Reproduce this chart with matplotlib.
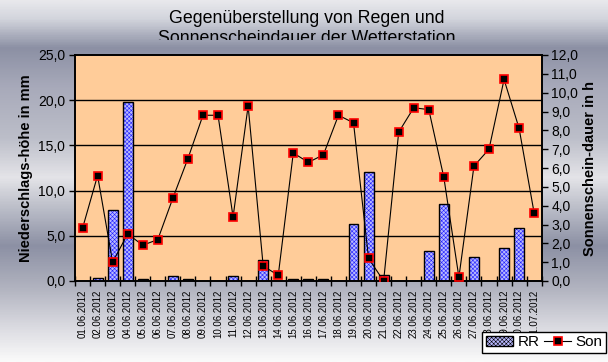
"""Niederschlag (RR) und Sonnenscheindauer (Son), Juni 2012"""

import numpy as np
import matplotlib
matplotlib.use("Agg")
import matplotlib.pyplot as plt
from matplotlib.patches import Patch
from matplotlib.lines import Line2D
from matplotlib.transforms import Bbox, TransformedBbox
from matplotlib.colors import LinearSegmentedColormap

# dates 01.06.2012 .. 01.07.2012
dates = ["%02d.06.2012" % d for d in range(1, 31)] + ["01.07.2012"]

# rain in mm (RR)
rain = [0.0, 0.3, 7.8, 19.8, 0.2, 0.0, 0.5, 0.2, 0.0, 0.0,
        0.5, 0.0, 2.3, 0.0, 0.2, 0.2, 0.2, 0.0, 6.3, 12.1,
        0.7, 0.0, 0.0, 3.3, 8.5, 0.0, 2.6, 0.0, 3.7, 5.9, 0.0]

# sunshine duration in h (Son)
sun = [2.8, 5.6, 1.0, 2.5, 1.9, 2.2, 4.4, 6.5, 8.8, 8.8,
       3.4, 9.3, 0.8, 0.3, 6.8, 6.3, 6.7, 8.8, 8.4, 1.2,
       0.0, 7.9, 9.2, 9.1, 5.5, 0.2, 6.1, 7.0, 10.7, 8.1, 3.6]

left_ticks = [0, 5, 10, 15, 20, 25]
right_ticks = list(range(0, 13))

plt.rcParams["hatch.linewidth"] = 0.4

W, H = 608, 362
fig = plt.figure(figsize=(W / 100, H / 100), dpi=100)

# chrome-like background gradient (top -> bottom)
bg = fig.add_axes([0, 0, 1, 1], zorder=-5)
stops = [(0.0, "#e8e8ec"), (0.05, "#d2d4dc"), (0.13, "#8c90a4"),
         (0.24, "#a8aaba"), (0.38, "#bcbec9"), (0.49, "#e4e4e8"),
         (0.56, "#c2c4ce"), (0.68, "#8c90a4"), (0.80, "#b2b4c0"),
         (0.91, "#dcdce2"), (1.0, "#fafafa")]
cmap = LinearSegmentedColormap.from_list("chrome", stops)
bg.imshow(np.linspace(0, 1, 400).reshape(-1, 1), aspect="auto", cmap=cmap,
          extent=[0, 1, 0, 1], origin="upper")
bg.axis("off")

# title; second line is cut off at the bottom like in the original
fig.text(0.505, 1 - 22.7 / H, "Gegenüberstellung von Regen und",
         ha="center", va="baseline", fontsize=12.8, family="Liberation Sans")
t2 = fig.text(0.505, 1 - 42.7 / H, "Sonnenscheindauer der Wetterstation",
              ha="center", va="baseline", fontsize=12.8, family="Liberation Sans")
t2.set_clip_box(TransformedBbox(Bbox([[0, 1 - 40 / H], [1, 1]]), fig.transFigure))
t2.set_clip_on(True)

x0, x1 = 75 / W, 541.7 / W
y0, y1 = 1 - 281 / H, 1 - 55 / H
ax = fig.add_axes([x0, y0, x1 - x0, y1 - y0])
ax.set_facecolor("#ffcc99")

narrow = ["Liberation Sans Narrow", "Liberation Sans"]
x = np.arange(len(dates))
bar_face = "#b8b8ff"
bar_hatch = "xxxxxxxx"

# bars: blue checker pattern + black outline
ax.bar(x, rain, width=0.66, color=bar_face, edgecolor="#2020ff", hatch=bar_hatch,
       linewidth=0, zorder=2)
ax.bar(x, rain, width=0.66, facecolor="none", edgecolor="black", linewidth=1.0, zorder=3)

ax.set_xlim(-0.5, len(dates) - 0.5)
ax.set_ylim(0, 25)
ax.set_yticks(left_ticks)
ax.set_yticklabels([("%.1f" % v).replace(".", ",") for v in left_ticks],
                   family=narrow, fontsize=10)
ax.set_xticks(x)
ax.set_xticklabels(dates, rotation=90, family=narrow, fontsize=7)
ax.tick_params(axis="x", which="major", length=0, pad=6)
ax.set_xticks(np.arange(-0.5, len(dates)), minor=True)
ax.tick_params(axis="x", which="minor", length=7, direction="inout", width=1)
ax.tick_params(axis="y", length=4, width=1, pad=3)
for v in left_ticks[1:-1]:
    ax.axhline(v, color="black", linewidth=1.0, zorder=1)
for s in ax.spines.values():
    s.set_linewidth(1.2)

ax.set_ylabel("Niederschlags-höhe in mm", fontsize=10.5, fontweight="bold",
              family="Liberation Sans")
ax.yaxis.set_label_coords(-42 / (541.7 - 75), 0.5)

# sunshine line on the right axis
ax2 = ax.twinx()
ax2.plot(x, sun, color="black", linewidth=0.8, marker="s", markersize=6.2,
         markerfacecolor="black", markeredgecolor="#ff0000", markeredgewidth=1.2,
         zorder=4)
ax2.set_ylim(0, 12)
ax2.set_yticks(right_ticks)
ax2.set_yticklabels([("%.1f" % v).replace(".", ",") for v in right_ticks],
                    family=narrow, fontsize=10)
ax2.tick_params(axis="y", length=4, width=1, pad=3)
for s in ax2.spines.values():
    s.set_linewidth(1.2)
ax2.set_ylabel("Sonnenschein-dauer in h", fontsize=10.5, fontweight="bold",
               family="Liberation Sans", rotation=90)
ax2.yaxis.set_label_coords(1 + 41 / (541.7 - 75), 0.5)

handles = [Patch(facecolor=bar_face, edgecolor="black", hatch=bar_hatch, linewidth=1),
           Line2D([], [], color="black", linewidth=0.8, marker="s", markersize=6.2,
                  markerfacecolor="black", markeredgecolor="#ff0000", markeredgewidth=1.2)]
leg = fig.legend(handles, ["RR", "Son"], loc="lower right", ncol=2,
                 bbox_to_anchor=(606 / W, 1 - 353.3 / H), borderaxespad=0,
                 fancybox=False, edgecolor="black", framealpha=1,
                 prop={"family": "Liberation Sans", "size": 11},
                 handlelength=1.8, handletextpad=0.25, columnspacing=0.3,
                 borderpad=0.25, numpoints=1)
leg.get_frame().set_linewidth(1.0)

fig.savefig("out.png", dpi=100)
